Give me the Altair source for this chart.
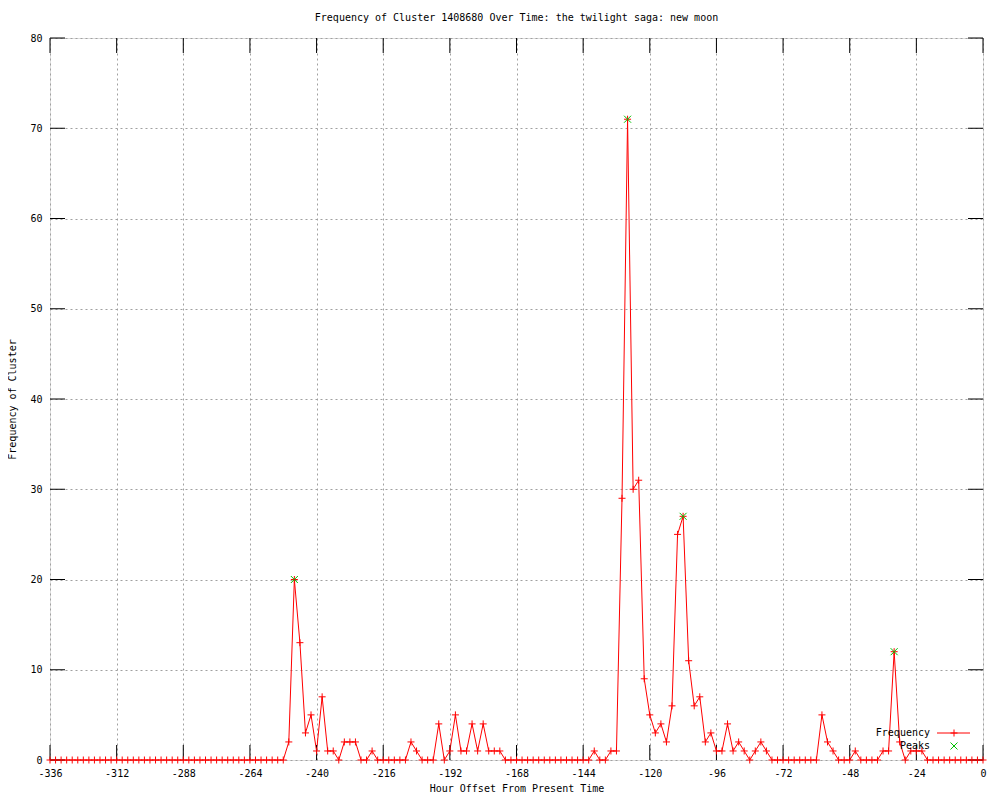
import altair as alt
import pandas as pd

# ---- data ----
hours = list(range(-336, 1, 2))
freq = [
    # -336 .. -252
    0, 0, 0, 0, 0, 0, 0, 0, 0, 0, 0, 0, 0, 0, 0, 0, 0, 0, 0, 0, 0, 0,
    0, 0, 0, 0, 0, 0, 0, 0, 0, 0, 0, 0, 0, 0, 0, 0, 0, 0, 0, 0, 0,
    # -250 .. -174
    2, 20, 13, 3, 5, 1, 7, 1, 1, 0, 2, 2, 2, 0, 0, 1, 0, 0, 0, 0,
    0, 0, 2, 1, 0, 0, 0, 4, 0, 1, 5, 1, 1, 4, 1, 4, 1, 1, 1,
    # -172 .. -142
    0, 0, 0, 0, 0, 0, 0, 0, 0, 0, 0, 0, 0, 0, 0, 0,
    # -140 .. -78
    1, 0, 0, 1, 1, 29, 71, 30, 31, 9, 5, 3, 4, 2, 6, 25, 27, 11, 6, 7,
    2, 3, 1, 1, 4, 1, 2, 1, 0, 1, 2, 1,
    # -76 .. -60
    0, 0, 0, 0, 0, 0, 0, 0, 0,
    # -58 .. -22
    5, 2, 1, 0, 0, 0, 1, 0, 0, 0, 0, 1, 1, 12, 2, 0, 1, 1, 1,
    # -20 .. 0
    0, 0, 0, 0, 0, 0, 0, 0, 0, 0, 0,
]
peak_hours = [-248, -128, -108, -32]
peak_vals = [20, 71, 27, 12]
x_ticks = list(range(-336, 1, 24))
y_ticks = list(range(0, 81, 10))

title_text = "Frequency of Cluster 1408680 Over Time: the twilight saga: new moon"
x_title = "Hour Offset From Present Time"
y_title = "Frequency of Cluster"

# ---- styling ----
W, H = 933, 722
TICK = 15
FONT = "DejaVu Sans Mono"
FS = 10
RED = "#ff0000"
GREEN = "#00c000"
GRID = "#a0a0a0"
PLUS = "M-1,0H1M0,-1V1"
XSHAPE = "M-1,-1L1,1M1,-1L-1,1"

df = pd.DataFrame({"hour": hours, "freq": freq})
peaks = pd.DataFrame({"hour": peak_hours, "freq": peak_vals})
xt = pd.DataFrame({"t": x_ticks})
yt = pd.DataFrame({"t": y_ticks})
one = pd.DataFrame({"k": [0]})

xscale = alt.Scale(domain=[-336, 0], nice=False, zero=False)
yscale = alt.Scale(domain=[0, 80], nice=False, zero=True)

xaxis = alt.Axis(
    values=x_ticks, title=x_title, grid=True, gridDash=[2, 3], gridColor=GRID,
    gridOpacity=1, ticks=False, domain=False, labelPadding=8, labelFont=FONT,
    labelFontSize=FS, labelColor="black", titleFont=FONT, titleFontSize=FS,
    titleFontWeight="normal", titleColor="black", titlePadding=5,
    labelFlush=False, labelOverlap=False, labelExpr="'' + datum.value",
)
yaxis = alt.Axis(
    values=y_ticks, title=y_title, grid=True, gridDash=[2, 3], gridColor=GRID,
    gridOpacity=1, ticks=False, domain=False, labelPadding=8, labelFont=FONT,
    labelFontSize=FS, labelColor="black", titleFont=FONT, titleFontSize=FS,
    titleFontWeight="normal", titleColor="black", titlePadding=12,
    labelFlush=False, labelOverlap=False, labelExpr="'' + datum.value",
)

X = alt.X("hour:Q", scale=xscale, axis=xaxis)
Y = alt.Y("freq:Q", scale=yscale, axis=yaxis)

line = alt.Chart(df).mark_line(color=RED, strokeWidth=1).encode(x=X, y=Y)
pts = alt.Chart(df).mark_point(
    shape=PLUS, size=49, filled=False, stroke=RED, strokeWidth=1, opacity=1
).encode(x=alt.X("hour:Q", scale=xscale), y=alt.Y("freq:Q", scale=yscale))
pk = alt.Chart(peaks).mark_point(
    shape=XSHAPE, size=49, filled=False, stroke=GREEN, strokeWidth=1, opacity=1
).encode(x=alt.X("hour:Q", scale=xscale), y=alt.Y("freq:Q", scale=yscale))

# inward tick marks on all four borders
tick_style = dict(color="black", strokeWidth=1)
tb = alt.Chart(xt).mark_rule(**tick_style).encode(
    x=alt.X("t:Q", scale=xscale), y=alt.value(H), y2=alt.value(H - TICK))
tt = alt.Chart(xt).mark_rule(**tick_style).encode(
    x=alt.X("t:Q", scale=xscale), y=alt.value(0), y2=alt.value(TICK))
tl = alt.Chart(yt).mark_rule(**tick_style).encode(
    y=alt.Y("t:Q", scale=yscale), x=alt.value(0), x2=alt.value(TICK))
tr = alt.Chart(yt).mark_rule(**tick_style).encode(
    y=alt.Y("t:Q", scale=yscale), x=alt.value(W), x2=alt.value(W - TICK))

# legend (gnuplot style: label then sample)
LX, LY1, LY2 = 880, 695, 708
leg_t1 = alt.Chart(one).mark_text(
    font=FONT, fontSize=FS, align="right", baseline="middle", color="black"
).encode(x=alt.value(LX), y=alt.value(LY1), text=alt.value("Frequency"))
leg_t2 = alt.Chart(one).mark_text(
    font=FONT, fontSize=FS, align="right", baseline="middle", color="black"
).encode(x=alt.value(LX), y=alt.value(LY2), text=alt.value("Peaks"))
leg_l = alt.Chart(one).mark_rule(color=RED, strokeWidth=1).encode(
    x=alt.value(LX + 7), x2=alt.value(LX + 40), y=alt.value(LY1))
leg_p = alt.Chart(one).mark_point(
    shape=PLUS, size=49, filled=False, stroke=RED, strokeWidth=1, opacity=1
).encode(x=alt.value(LX + 24), y=alt.value(LY1))
leg_x = alt.Chart(one).mark_point(
    shape=XSHAPE, size=49, filled=False, stroke=GREEN, strokeWidth=1, opacity=1
).encode(x=alt.value(LX + 24), y=alt.value(LY2))

chart = alt.layer(
    line, tb, tt, tl, tr, pts, pk, leg_t1, leg_t2, leg_l, leg_p, leg_x
).properties(
    width=W, height=H,
    title=alt.TitleParams(
        title_text, font=FONT, fontSize=FS, fontWeight="normal",
        color="black", anchor="middle", offset=10,
    ),
    autosize=alt.AutoSizeParams(type="none"),
    padding={"left": 42, "top": 30, "right": 8, "bottom": 32},
).configure_view(
    stroke="black", strokeWidth=1
).configure(background="white")

chart.save("out.html", embed_options={"renderer": "svg", "actions": False})
